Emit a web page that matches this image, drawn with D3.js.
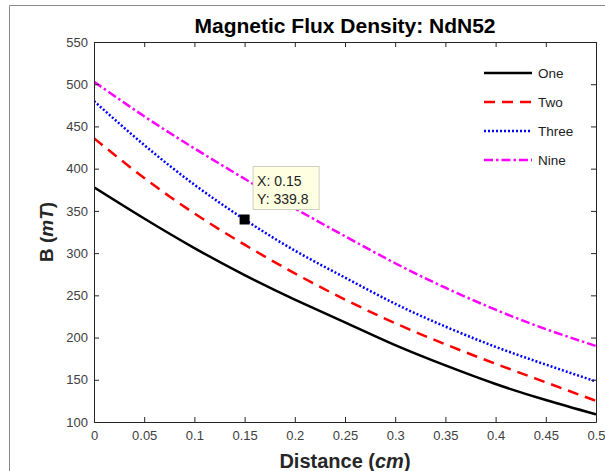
<!DOCTYPE html>
<html>
<head>
<meta charset="utf-8">
<script src="https://cdn.jsdelivr.net/npm/d3@7"></script>
<style>
  body { margin: 0; background: #fff; }
  svg { font-family: "Liberation Sans", Arial, sans-serif; }
</style>
</head>
<body>
<svg id="chart" width="605" height="471"></svg>
<script>
const width = 605;
const height = 471;

// data
const distance = [0, 0.05, 0.1, 0.15, 0.2, 0.25, 0.3, 0.35, 0.4, 0.45, 0.5];
const one   = [378, 341, 306, 274, 245, 218, 191, 167, 145, 126, 109];
const two   = [436, 389, 347, 310, 276, 245, 217, 192, 169, 147, 125];
const three = [480, 428, 381, 339.8, 303, 271, 240, 213, 189, 168, 148];
const nine  = [503, 462, 424, 388, 353, 320, 288, 259, 233, 210, 190];
const seriesNames = ["One", "Two", "Three", "Nine"];
const xTicks = [0, 0.05, 0.1, 0.15, 0.2, 0.25, 0.3, 0.35, 0.4, 0.45, 0.5];
const yTicks = [100, 150, 200, 250, 300, 350, 400, 450, 500, 550];
const tip = { x: 0.15, y: 339.8 };

const margin = { top: 42, right: 9, bottom: 49, left: 94 };
const svg = d3.select("#chart");

// figure frame
svg.append("path")
    .attr("d", "M9.5,471 V5.5 H605")
    .attr("fill", "none")
    .attr("stroke", "#8a8a8a")
    .attr("stroke-width", 1);

const x = d3.scaleLinear().domain([0, 0.5]).range([margin.left, width - margin.right]);
const y = d3.scaleLinear().domain([100, 550]).range([height - margin.bottom, margin.top]);

const styles = [
    { color: "#000000", dash: null },
    { color: "#ff0000", dash: "11,7" },
    { color: "#0000ff", dash: "2,2" },
    { color: "#ff00ff", dash: "9,3,2.5,3" }
];
const allSeries = [one, two, three, nine];

const line = d3.line()
    .x((d, i) => x(distance[i]))
    .y(d => y(d))
    .curve(d3.curveNatural);

const g = svg.append("g");
g.append("clipPath").attr("id", "clip")
    .append("rect")
    .attr("x", x(0)).attr("y", y(550))
    .attr("width", x(0.5) - x(0)).attr("height", y(100) - y(550));

allSeries.forEach((s, k) => {
    g.append("path")
        .datum(s)
        .attr("clip-path", "url(#clip)")
        .attr("fill", "none")
        .attr("stroke", styles[k].color)
        .attr("stroke-width", 2.5)
        .attr("stroke-dasharray", styles[k].dash)
        .attr("d", line);
});

// axes, ticks pointing inward on all sides
const axisColor = "#262626";
const axes = [
    svg.append("g").attr("transform", `translate(0,${y(100)})`)
        .call(d3.axisBottom(x).tickValues(xTicks).tickSizeInner(-5).tickSizeOuter(0).tickPadding(9).tickFormat(d3.format("~g"))),
    svg.append("g").attr("transform", `translate(0,${y(550)})`)
        .call(d3.axisTop(x).tickValues(xTicks).tickSizeInner(-5).tickSizeOuter(0).tickFormat("")),
    svg.append("g").attr("transform", `translate(${x(0)},0)`)
        .call(d3.axisLeft(y).tickValues(yTicks).tickSizeInner(-5).tickSizeOuter(0).tickPadding(6)),
    svg.append("g").attr("transform", `translate(${x(0.5)},0)`)
        .call(d3.axisRight(y).tickValues(yTicks).tickSizeInner(-5).tickSizeOuter(0).tickFormat(""))
];
axes.forEach(a => {
    a.select(".domain").attr("stroke", axisColor);
    a.selectAll(".tick line").attr("stroke", axisColor);
    a.selectAll("text")
        .attr("fill", "#404040")
        .attr("font-size", 13)
        .attr("font-family", "Liberation Sans, Arial, sans-serif");
});

// title and labels
svg.append("text")
    .attr("x", (x(0) + x(0.5)) / 2).attr("y", 33)
    .attr("text-anchor", "middle")
    .attr("font-size", 21).attr("font-weight", "bold")
    .attr("fill", "#000")
    .text("Magnetic Flux Density: NdN52");

const xl = svg.append("text")
    .attr("x", (x(0) + x(0.5)) / 2).attr("y", 468)
    .attr("text-anchor", "middle")
    .attr("font-size", 20).attr("font-weight", "bold")
    .attr("fill", "#262626");
xl.append("tspan").text("Distance (");
xl.append("tspan").attr("font-style", "italic").text("cm");
xl.append("tspan").text(")");

const yl = svg.append("text")
    .attr("transform", `translate(53,${(y(100) + y(550)) / 2}) rotate(-90)`)
    .attr("text-anchor", "middle")
    .attr("font-size", 19).attr("font-weight", "bold")
    .attr("fill", "#262626");
yl.append("tspan").text("B (");
yl.append("tspan").attr("font-style", "italic").text("mT");
yl.append("tspan").text(")");

// legend
const legend = svg.append("g");
seriesNames.forEach((name, k) => {
    const ly = 73 + k * 29;
    legend.append("line")
        .attr("x1", 484).attr("x2", 532)
        .attr("y1", ly).attr("y2", ly)
        .attr("stroke", styles[k].color)
        .attr("stroke-width", 2.5)
        .attr("stroke-dasharray", styles[k].dash);
    legend.append("text")
        .attr("x", 538).attr("y", ly + 5)
        .attr("font-size", 13.5)
        .attr("fill", "#222")
        .text(name);
});

// data tip
svg.append("rect")
    .attr("x", x(tip.x) - 5).attr("y", y(tip.y) - 5)
    .attr("width", 10).attr("height", 10)
    .attr("fill", "#000");
const tipG = svg.append("g").attr("transform", `translate(${x(tip.x) + 8.5},166.5)`);
tipG.append("rect")
    .attr("width", 66).attr("height", 43)
    .attr("fill", "#ffffe1")
    .attr("stroke", "#d0d0c0");
tipG.append("text").attr("x", 4).attr("y", 19)
    .attr("font-size", 14).attr("fill", "#222")
    .text(`X: ${tip.x}`);
tipG.append("text").attr("x", 4).attr("y", 37)
    .attr("font-size", 14).attr("fill", "#222")
    .text(`Y: ${tip.y}`);
</script>
</body>
</html>
